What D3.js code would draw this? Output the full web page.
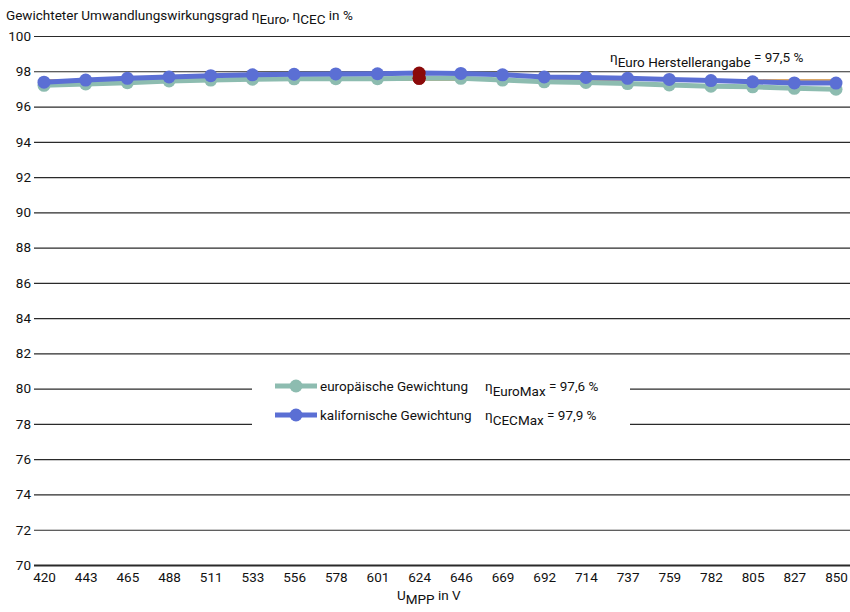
<!DOCTYPE html>
<html><head><meta charset="utf-8">
<script src="https://cdn.jsdelivr.net/npm/d3@7"></script>
<style>
body{margin:0;background:#fff;}
svg{display:block;font-family:Roboto,"Liberation Sans",sans-serif;}
</style></head><body>
<svg id="c" width="850" height="612"></svg>
<script>
const categories = [420,443,465,488,511,533,556,578,601,624,646,669,692,714,737,759,782,805,827,850];
const euroValues = [97.2,97.28,97.35,97.45,97.5,97.55,97.57,97.58,97.58,97.6,97.6,97.5,97.4,97.37,97.3,97.22,97.15,97.12,97.03,96.98];
const cecValues  = [97.38,97.5,97.6,97.68,97.75,97.8,97.83,97.85,97.86,97.9,97.88,97.8,97.68,97.65,97.6,97.54,97.47,97.4,97.34,97.33];
const yTicks = [70,72,74,76,78,80,82,84,86,88,90,92,94,96,98,100];
const herstellerValue = 97.5;
const maxIndex = 9;

const svg = d3.select("#c");
const x = d3.scalePoint().domain(categories).range([44, 836]);
const y = d3.scaleLinear().domain([70, 100]).range([565, 36]);
const gridL = 34, gridR = 850;
const FS = 13.5;

// grid lines
const yAxis = d3.axisLeft(y).tickValues(yTicks).tickSize(-(gridR-gridL)).tickPadding(4).tickFormat(d3.format("d"));
const gy = svg.append("g").attr("transform", `translate(${gridL},0)`).call(yAxis);
gy.select(".domain").remove();
gy.selectAll(".tick line").attr("stroke", "#2a2a2a").attr("stroke-width", 1.2);
gy.selectAll(".tick text").attr("font-size", FS).attr("fill", "#111").attr("x", -3).attr("font-family", "Roboto");
gy.selectAll(".tick").filter(d => d === 70).select("line").attr("stroke-width", 2.2);

// x axis labels
const xAxis = d3.axisBottom(x).tickSize(0).tickPadding(7);
const gx = svg.append("g").attr("transform", `translate(0,${y(70)})`).call(xAxis);
gx.select(".domain").remove();
gx.selectAll(".tick text").attr("font-size", FS).attr("fill", "#111").attr("font-family", "Roboto");

// manufacturer line
svg.append("line").attr("x1", x(categories[0])).attr("x2", x(categories[categories.length-1]))
  .attr("y1", y(herstellerValue)).attr("y2", y(herstellerValue))
  .attr("stroke", "#d9a86a").attr("stroke-width", 2);

const line = d3.line().x((d,i) => x(categories[i])).y(d => y(d));

function series(vals, color) {
  svg.append("path").datum(vals).attr("d", line).attr("fill", "none")
    .attr("stroke", color).attr("stroke-width", 5).attr("stroke-linejoin", "round");
  svg.append("g").selectAll("circle").data(vals).join("circle")
    .attr("cx", (d,i) => x(categories[i])).attr("cy", d => y(d)).attr("r", 6.5)
    .attr("fill", (d,i) => i === maxIndex ? "#8b0a0a" : color);
}
series(euroValues, "#8dbcb0");
series(cecValues, "#5b6fd4");
svg.append("circle").attr("cx", x(categories[maxIndex])).attr("cy", y(euroValues[maxIndex])).attr("r", 6.5).attr("fill", "#8b0a0a");

// title
const t = svg.append("text").attr("x", 6).attr("y", 20).attr("font-size", FS).attr("fill", "#111");
t.append("tspan").text("Gewichteter Umwandlungswirkungsgrad η");
t.append("tspan").attr("dy", 4).text("Euro");
t.append("tspan").attr("dy", -4).text(", η");
t.append("tspan").attr("dy", 4).text("CEC");
t.append("tspan").attr("dy", -4).text(" in %");

// hersteller label
const h = svg.append("text").attr("x", 610).attr("y", 62).attr("font-size", FS).attr("fill", "#111");
h.append("tspan").text("η");
h.append("tspan").attr("dy", 5).text("Euro Herstellerangabe");
h.append("tspan").attr("dy", -5).text(" = 97,5 %");

// x axis title
const xt = svg.append("text").attr("x", 397).attr("y", 600).attr("font-size", FS).attr("fill", "#111");
xt.append("tspan").text("U");
xt.append("tspan").attr("dy", 4).text("MPP");
xt.append("tspan").attr("dy", -4).text(" in V");

// legend
const lg = svg.append("g");
lg.append("rect").attr("x", 252).attr("y", 368).attr("width", 378).attr("height", 66).attr("fill", "#fff");
const legendItems = [
  {name: "europäische Gewichtung", color: "#8dbcb0", sub: "EuroMax", val: "97,6 %", yy: 386},
  {name: "kalifornische Gewichtung", color: "#5b6fd4", sub: "CECMax", val: "97,9 %", yy: 415}
];
legendItems.forEach(it => {
  lg.append("line").attr("x1", 275).attr("x2", 317).attr("y1", it.yy).attr("y2", it.yy)
    .attr("stroke", it.color).attr("stroke-width", 5);
  lg.append("circle").attr("cx", 296).attr("cy", it.yy).attr("r", 6.5).attr("fill", it.color);
  lg.append("text").attr("x", 320).attr("y", it.yy + 5).attr("font-size", FS).attr("fill", "#111").text(it.name);
  const e = lg.append("text").attr("x", 485).attr("y", it.yy + 5).attr("font-size", FS).attr("fill", "#111");
  e.append("tspan").text("η");
  e.append("tspan").attr("dy", 5).text(it.sub);
  e.append("tspan").attr("dy", -5).text(" = " + it.val);
});
</script></body></html>
